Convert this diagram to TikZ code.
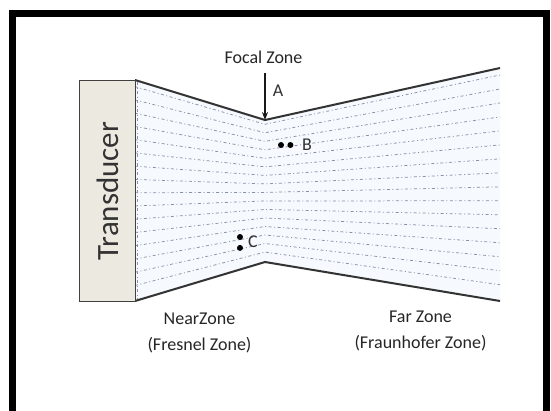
\documentclass[tikz,border=0pt]{standalone}
\usepackage{fontspec}
\setmainfont{Carlito}
\usetikzlibrary{positioning, arrows.meta, calc}
\definecolor{boxfill}{RGB}{236,233,225}
\definecolor{beamfill}{RGB}{246,249,253}
\definecolor{rayblue}{RGB}{135,145,168}
\tikzset{
  transbox/.style={rectangle, draw=black!75, line width=1.2pt, fill=boxfill,
                   minimum width=56pt, minimum height=221pt, inner sep=0pt},
  edgeline/.style={draw=black!80, line width=2pt},
  rayline/.style={draw=rayblue, line width=0.75pt,
                  dash pattern=on 3pt off 2.5pt on 1pt off 2.5pt},
  zonelabel/.style={font=\fontsize{18}{26}\selectfont, align=center, text=black!85},
  ptlabel/.style={font=\fontsize{18}{20}\selectfont, text=black!80, inner sep=1pt},
  dotmark/.style={circle, fill=black, inner sep=0pt, minimum size=6pt},
  myarr/.style={-{Stealth[length=8pt, width=6pt]}, line width=1.6pt, draw=black!90},
}
\begin{document}
\begin{tikzpicture}[x=1pt, y=-1pt]
  \useasboundingbox (0,0) rectangle (551,410);
  \fill[white] (0,0) rectangle (551,410);

  % outer frame, open at the bottom
  \draw[line width=7pt] (12.5,425) -- (12.5,13) -- (546,13) -- (546,425);

  % beam corners
  \coordinate (tl) at (135,80);
  \coordinate (bl) at (135,301);
  \coordinate (ft) at (265,120);
  \coordinate (fb) at (265,262);
  \coordinate (tr) at (500,68);
  \coordinate (br) at (500,301);

  \fill[beamfill] (tl) -- (ft) -- (tr) -- (br) -- (fb) -- (bl) -- cycle;
  \draw[rayline] (137,82) -- (137,299);
  \foreach \t in {0.03,0.09,...,0.98} {
    \draw[rayline] ($(tl)!\t!(bl)$) -- ($(ft)!\t!(fb)$) -- ($(tr)!\t!(br)$);
  }
  \draw[edgeline] (tl) -- (ft) -- (tr);
  \draw[edgeline] (bl) -- (fb) -- (br);

  \node[transbox, anchor=north west] (trans) at (79,80)
    {\rotatebox{90}{\fontsize{31}{34}\selectfont\color{black!80}Transducer}};

  % focal zone marker
  \node[zonelabel] (focal) at (263.5,57) {Focal Zone};
  \coordinate (arrtop) at (265,73);
  \draw[myarr] (arrtop) -- (ft);
  \node[ptlabel] (ptA) at (278,91) {A};

  % points B and C
  \node[dotmark] (b1) at (281,145) {};
  \node[dotmark, right=3pt of b1] (b2) {};
  \node[ptlabel] (ptB) at (307,145) {B};
  \node[dotmark] (c1) at (240,237) {};
  \node[dotmark, below=4.5pt of c1] (c2) {};
  \node[ptlabel] (ptC) at (253,242) {C};

  % zone names
  \node[zonelabel] (near) at (199.5,333) {NearZone\\(Fresnel Zone)};
  \node[zonelabel] (far)  at (420.5,331) {Far Zone\\(Fraunhofer Zone)};
\end{tikzpicture}
\end{document}
